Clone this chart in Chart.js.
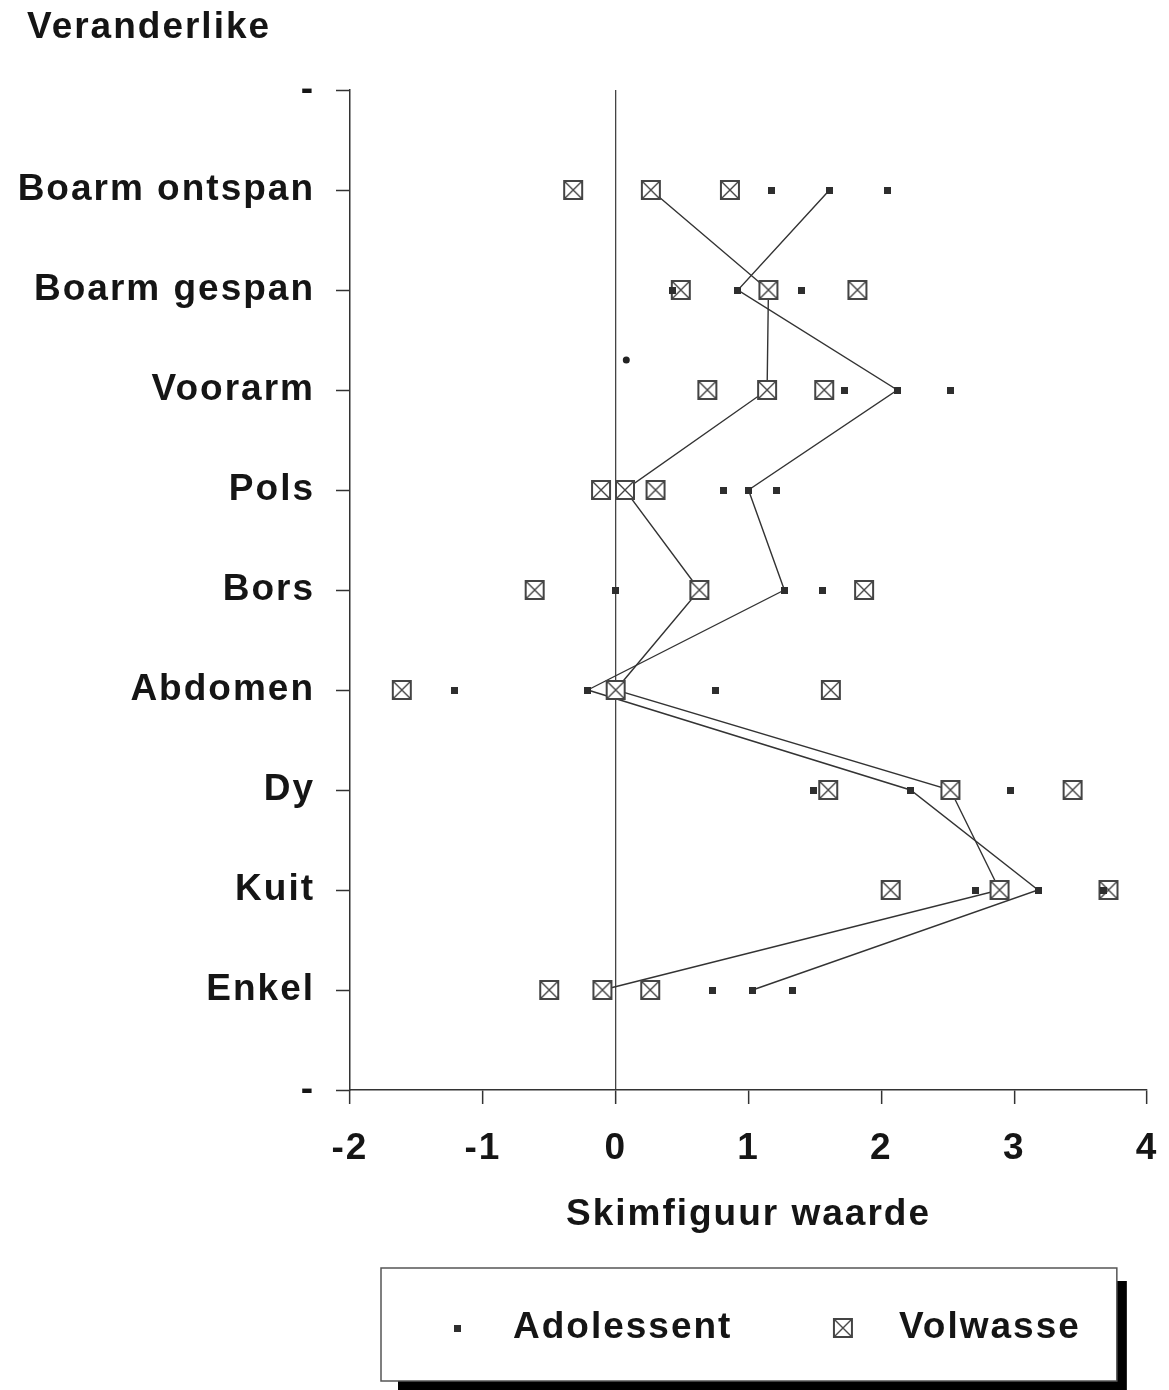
<!DOCTYPE html>
<html><head><meta charset="utf-8">
<script src="https://cdn.jsdelivr.net/npm/chart.js@4.4.1/dist/chart.umd.min.js"></script>
<style>html,body{margin:0;padding:0;background:#fff}canvas{display:block}</style>
</head><body>
<canvas id="c" width="1169" height="1390"></canvas>
<script>
// ---- data ----
const categories = ['Boarm ontspan','Boarm gespan','Voorarm','Pols','Bors','Abdomen','Dy','Kuit','Enkel'];
const yTickLabels = ['-', ...categories, '-'];
const xTicks = [-2, -1, 0, 1, 2, 3, 4];
const seriesNames = ['Adolessent', 'Volwasse'];
const xTitle = 'Skimfiguur waarde';
const yTitle = 'Veranderlike';

const adolLow  = [1.17, 0.43, 1.72, 0.81, 0.00, -1.21, 1.49, 2.71, 0.73];
const adolMid  = [1.61, 0.92, 2.12, 1.00, 1.27, -0.21, 2.22, 3.18, 1.03];
const adolHigh = [2.05, 1.40, 2.52, 1.21, 1.56, 0.75, 2.97, 3.67, 1.33];

const volwLow  = [-0.32, 0.49, 0.69, -0.11, -0.61, -1.61, 1.60, 2.07, -0.50];
const volwMid  = [0.265, 1.15, 1.14, 0.07, 0.63, 0.00, 2.52, 2.89, -0.10];
const volwHigh = [0.86, 1.82, 1.57, 0.30, 1.87, 1.62, 3.44, 3.71, 0.26];

const strayX = [0.08];
const strayPos = [2.7];

// ---- markers ----
function makeSquare() {
  const c = document.createElement('canvas'); c.width = 7; c.height = 7;
  const g = c.getContext('2d'); g.fillStyle = '#2e2e2e'; g.fillRect(0, 0, 7, 7);
  return c;
}
function makeBoxX() {
  const c = document.createElement('canvas'); c.width = 22; c.height = 22;
  const g = c.getContext('2d');
  g.fillStyle = '#fff'; g.fillRect(2, 2, 18, 18);
  g.strokeStyle = '#444'; g.lineWidth = 2; g.strokeRect(2, 2, 18, 18);
  g.lineWidth = 1.4; g.beginPath();
  g.moveTo(3, 3); g.lineTo(19, 19); g.moveTo(19, 3); g.lineTo(3, 19); g.stroke();
  return c;
}
const sqMarker = makeSquare();
const boxMarker = makeBoxX();

const toPts = (lo, mid, hi) => categories.flatMap((_, i) => [
  {x: lo[i], y: i + 1}, {x: mid[i], y: i + 1}, {x: hi[i], y: i + 1}]);
const medPts = arr => arr.map((v, i) => ({x: v, y: i + 1}));

const FONT = "'Liberation Sans', Arial, Helvetica, sans-serif";
const TXT = '#151515';
const AXIS = '#333';
const LEG_PAD = 73;
const TITLE_LEFT = 27;

const helperPlugin = {
  id: 'helper',
  beforeLayout(chart) { chart.ctx.letterSpacing = '2px'; },
  afterLayout(chart) {
    const lg = chart.legend;
    const w = lg.right - lg.left;
    const target = chart.chartArea.left + 69.5 - LEG_PAD;
    lg.left = target; lg.right = target + w;
    const tb = chart.titleBlock;
    if (tb) { const tw = tb.right - tb.left; tb.left = TITLE_LEFT; tb.right = TITLE_LEFT + tw; }
  },
  beforeDraw(chart) {
    const ctx = chart.ctx;
    ctx.letterSpacing = '2px';
    ctx.save();
    ctx.fillStyle = '#fff';
    ctx.fillRect(0, 0, chart.width, chart.height);
    const hb = chart.legend.legendHitBoxes;
    if (hb && hb.length) {
      const L = hb[0].left - 38.5;
      const R = hb[hb.length - 1].left + hb[hb.length - 1].width + 36;
      const T = hb[0].top - 41.5;
      const B = hb[0].top + hb[0].height + 34.5;
      ctx.fillStyle = '#000';
      ctx.fillRect(L + 17, T + 13, (R - L) - 7, (B - T) + 20);
      ctx.fillStyle = '#fff';
      ctx.fillRect(L, T, R - L, B - T);
      ctx.strokeStyle = '#555'; ctx.lineWidth = 1.5;
      ctx.strokeRect(L, T, R - L, B - T);
    }
    ctx.restore();
  }
};

Chart.defaults.font.family = FONT;
Chart.defaults.color = TXT;

new Chart(document.getElementById('c'), {
  type: 'scatter',
  data: {
    datasets: [
      {label: seriesNames[0], data: toPts(adolLow, adolMid, adolHigh), pointStyle: sqMarker, order: 0},
      {label: seriesNames[1], data: toPts(volwLow, volwMid, volwHigh), pointStyle: boxMarker, order: 1},
      {label: 'adolLine', data: medPts(adolMid), showLine: true, pointRadius: 0, borderColor: '#333', borderWidth: 1.4, order: 2},
      {label: 'volwLine', data: medPts(volwMid), showLine: true, pointRadius: 0, borderColor: '#333', borderWidth: 1.4, order: 2},
      {label: 'stray', data: strayX.map((v, i) => ({x: v, y: strayPos[i]})), pointStyle: 'circle', pointRadius: 3.5, backgroundColor: '#222', borderWidth: 0, order: 0}
    ]
  },
  options: {
    responsive: false,
    animation: false,
    events: [],
    layout: {padding: {left: 0, right: 22, top: 0, bottom: 33.5}},
    plugins: {
      tooltip: {enabled: false},
      title: {
        display: true, text: yTitle, align: 'start', color: TXT,
        font: {size: 37, weight: 'bold'}, padding: {top: 6, bottom: 39.6}
      },
      legend: {
        position: 'bottom', align: 'start', fullSize: true,
        labels: {
          usePointStyle: true, pointStyleWidth: 75, padding: LEG_PAD, color: TXT,
          font: {size: 37, weight: 'bold'},
          filter: item => item.datasetIndex < 2
        }
      }
    },
    scales: {
      x: {
        type: 'linear', min: xTicks[0], max: xTicks[xTicks.length - 1],
        afterBuildTicks: s => { s.ticks = xTicks.map(v => ({value: v})); },
        afterFit: s => { s.height = 146.5; s.paddingLeft = 0; s.paddingRight = 0; },
        ticks: {padding: 23, color: TXT, font: {size: 37, weight: 'bold'}, callback: v => String(v)},
        grid: {
          color: c => (c.tick && c.tick.value === 0) ? '#444' : 'rgba(0,0,0,0)',
          lineWidth: 1.3, tickLength: 14, tickColor: AXIS, tickWidth: 1.5
        },
        border: {display: true, color: AXIS, width: 1.5},
        title: {display: true, text: xTitle, color: TXT, font: {size: 37, weight: 'bold'}, padding: {top: 0, bottom: 0}}
      },
      y: {
        type: 'linear', min: 0, max: yTickLabels.length - 1, reverse: true,
        afterBuildTicks: s => { s.ticks = yTickLabels.map((_, i) => ({value: i})); },
        afterFit: s => { s.width = 350; },
        ticks: {padding: 21, color: TXT, font: {size: 37, weight: 'bold'}, autoSkip: false, callback: v => yTickLabels[v]},
        grid: {color: 'rgba(0,0,0,0)', tickLength: 14, tickColor: AXIS, tickWidth: 1.5},
        border: {display: true, color: AXIS, width: 1.5}
      }
    }
  },
  plugins: [helperPlugin]
});
</script>
</body></html>
